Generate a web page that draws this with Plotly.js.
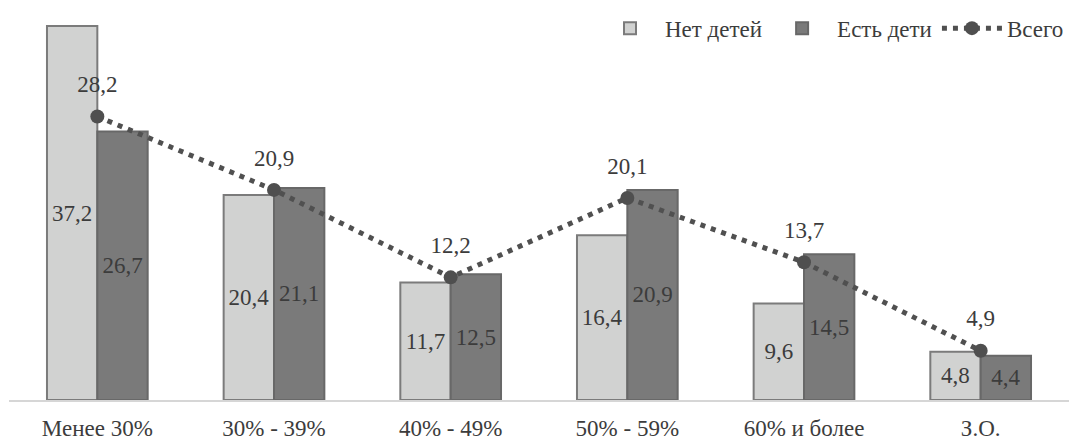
<!DOCTYPE html>
<html>
<head>
<meta charset="utf-8">
<script src="https://cdn.plot.ly/plotly-3.0.1.min.js"></script>
<style>html,body{margin:0;padding:0;background:#fff;}#chart{width:1077px;height:440px;}</style>
</head>
<body>
<div id="chart"></div>
<script>
const categories = ["Менее 30%", "30% - 39%", "40% - 49%", "50% - 59%", "60% и более", "З.О."];
const noChildren = [37.2, 20.4, 11.7, 16.4, 9.6, 4.8];
const withChildren = [26.7, 21.1, 12.5, 20.9, 14.5, 4.4];
const total = [28.2, 20.9, 12.2, 20.1, 13.7, 4.9];

const font = {family: "Liberation Serif", size: 23, color: "#3c3c3c"};

const traces = [
  {
    type: "bar", name: "Нет детей", x: categories, y: noChildren,
    marker: {color: "#d1d2d1", line: {color: "#7b7b7b", width: 2}},
    texttemplate: "%{y:.1f}", textposition: "inside", insidetextanchor: "middle",
    textfont: font, insidetextfont: font, textangle: 0, hoverinfo: "skip"
  },
  {
    type: "bar", name: "Есть дети", x: categories, y: withChildren,
    marker: {color: "#7a7a7a", line: {color: "#686868", width: 2}},
    texttemplate: "%{y:.1f}", textposition: "inside", insidetextanchor: "middle",
    textfont: font, insidetextfont: font, textangle: 0, hoverinfo: "skip"
  },
  {
    type: "scatter", mode: "lines+markers", name: "Всего", x: categories, y: total,
    line: {color: "#505050", width: 5, dash: "5px,6px"},
    marker: {color: "#4f4f4f", size: 14},
    hoverinfo: "skip", cliponaxis: false
  },
  {
    type: "scatter", mode: "markers+text", name: "Всего (подписи)", x: categories, y: total,
    marker: {size: 28, opacity: 0},
    texttemplate: "%{y:.1f}", textposition: "top center",
    textfont: font, hoverinfo: "skip", cliponaxis: false, showlegend: false
  }
];

const layout = {
  width: 1077, height: 440,
  margin: {l: 9, r: 8, t: 20, b: 40},
  paper_bgcolor: "#ffffff", plot_bgcolor: "#ffffff",
  separators: ", ",
  font: font,
  barmode: "group", bargap: 0.43, bargroupgap: 0,
  showlegend: true,
  legend: {orientation: "h", x: 1, xanchor: "right",
           y: 1.035, yanchor: "top",
           font: font, bgcolor: "rgba(0,0,0,0)", traceorder: "normal", itemwidth: 60},
  xaxis: {showgrid: false, zeroline: false, showline: true, linecolor: "#d6d6d6", linewidth: 2,
          ticks: "", tickfont: font, ticklabelstandoff: 6, fixedrange: true},
  yaxis: {range: [0, 37.7], visible: false, showgrid: false, zeroline: false, fixedrange: true}
};

Plotly.newPlot("chart", traces, layout, {displayModeBar: false, staticPlot: true});
</script>
</body>
</html>
